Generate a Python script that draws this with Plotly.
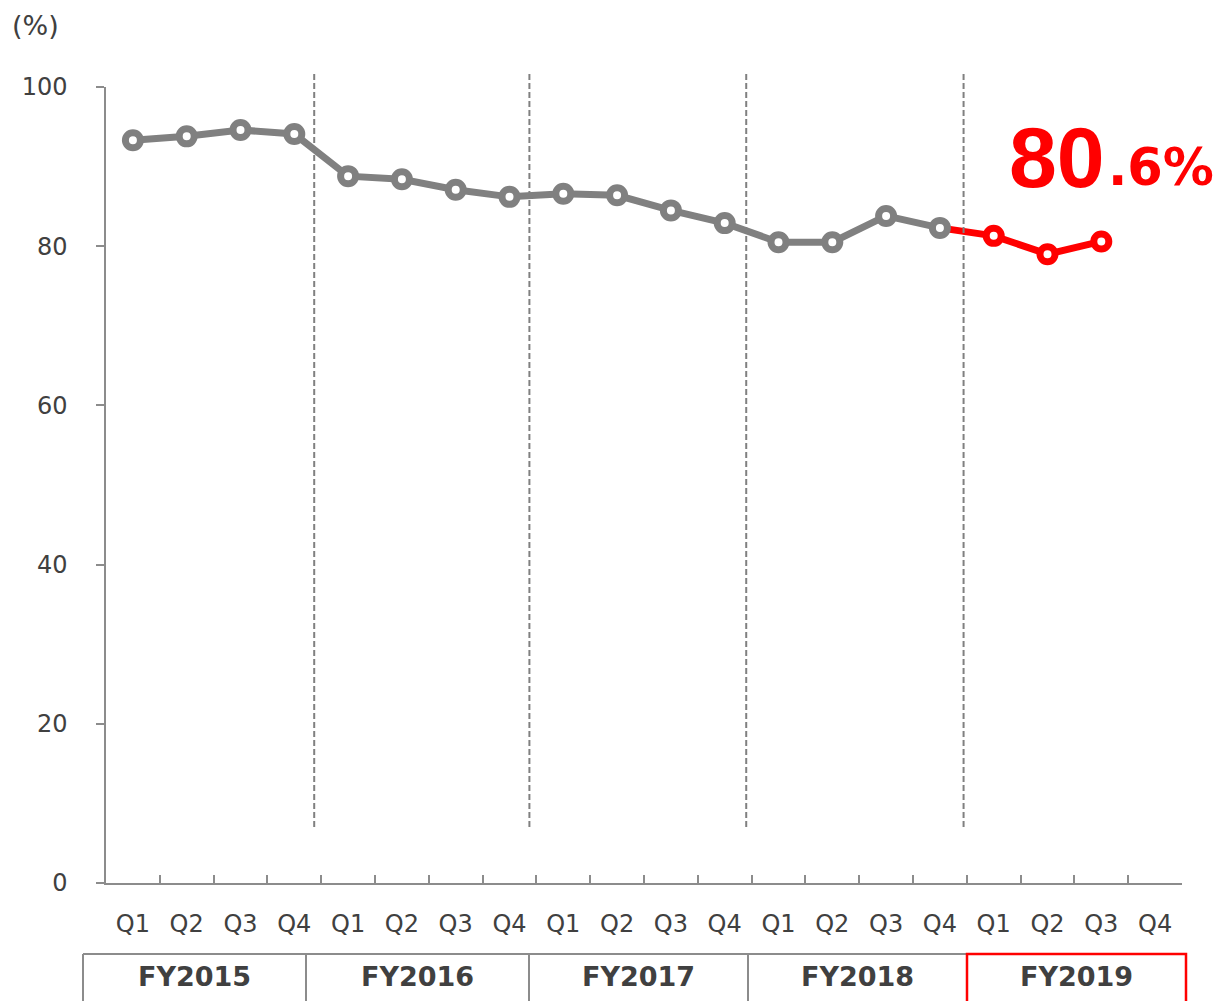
import plotly.graph_objects as go

# ---- data ----
fiscal_years = ["FY2015", "FY2016", "FY2017", "FY2018", "FY2019"]
quarters = ["Q1", "Q2", "Q3", "Q4"]
categories = [f"{fy}-{q}" for fy in fiscal_years for q in quarters]
tick_labels = [q for fy in fiscal_years for q in quarters]

ratio_past = [93.3, 93.8, 94.6, 94.1,
              88.8, 88.4, 87.1, 86.2,
              86.6, 86.4, 84.5, 82.9,
              80.5, 80.5, 83.8, 82.3]
ratio_current = [81.3, 79.0, 80.6]   # FY2019 Q1..Q3
highlight_big = "80"
highlight_small = ".6%"

# ---- layout geometry (pixels) ----
W, H = 1217, 1001
ML, MR, MT, MB = 106, 35, 87, 118
PW = W - ML - MR
PH = H - MT - MB

def px_x(p):
    return (p - ML) / PW

def px_y(p):
    return (H - MB - p) / PH

GREY = "#808080"
RED = "#FF0000"
TXT = "#404040"
AX = "#8C8C8C"

fig = go.Figure()

# red line: links last past quarter to current-year quarters
fig.add_trace(go.Scatter(
    x=[categories[15]] + categories[16:19], y=[ratio_past[-1]] + ratio_current,
    mode="lines", line=dict(color=RED, width=7),
    hoverinfo="skip", showlegend=False))

fig.add_trace(go.Scatter(
    x=categories[:16], y=ratio_past, mode="lines+markers",
    line=dict(color=GREY, width=7),
    marker=dict(symbol="circle", size=15, color="white",
                line=dict(color=GREY, width=7)),
    hoverinfo="skip", showlegend=False, cliponaxis=False))

fig.add_trace(go.Scatter(
    x=categories[16:19], y=ratio_current, mode="markers",
    marker=dict(symbol="circle", size=15, color="white",
                line=dict(color=RED, width=7)),
    hoverinfo="skip", showlegend=False, cliponaxis=False))

shapes = []
# dashed year separators (slightly left of category boundaries as in the reference)
n = len(categories)
for b, off in zip([4, 8, 12, 16], [0.13, 0.13, 0.10, 0.06]):
    xp = (b - off) / n
    shapes.append(dict(type="line", xref="paper", yref="paper",
                       x0=xp, x1=xp, y0=px_y(827), y1=px_y(72),
                       line=dict(color=GREY, width=2, dash="6px,3px")))

# fiscal-year boxes
edges_px = [83, 306, 529, 748, 967, 1186]
top_px, bot_px = 954, 1010
shapes.append(dict(type="line", xref="paper", yref="paper",
                   x0=px_x(edges_px[0]), x1=px_x(edges_px[4]),
                   y0=px_y(top_px), y1=px_y(top_px),
                   line=dict(color=AX, width=2)))
for e in edges_px[:4]:
    shapes.append(dict(type="line", xref="paper", yref="paper",
                       x0=px_x(e), x1=px_x(e), y0=px_y(top_px), y1=px_y(bot_px),
                       line=dict(color=AX, width=2)))
shapes.append(dict(type="rect", xref="paper", yref="paper",
                   x0=px_x(edges_px[4]), x1=px_x(edges_px[5]),
                   y0=px_y(bot_px), y1=px_y(top_px),
                   line=dict(color=RED, width=2.5), fillcolor="rgba(0,0,0,0)"))

annotations = []
for i, fy in enumerate(fiscal_years):
    cx = (edges_px[i] + edges_px[i + 1]) / 2
    annotations.append(dict(x=px_x(cx), y=px_y(977), xref="paper", yref="paper",
                            text=f"<b>{fy}</b>", showarrow=False,
                            xanchor="center", yanchor="middle",
                            font=dict(family="DejaVu Sans", size=27, color=TXT)))

annotations.append(dict(x=px_x(10), y=px_y(25), xref="paper", yref="paper",
                        text="(%)", showarrow=False, xanchor="left", yanchor="middle",
                        font=dict(family="DejaVu Sans", size=27, color=TXT)))

annotations.append(dict(x=px_x(1107), y=px_y(157), xref="paper", yref="paper",
                        text=f"<b>{highlight_big}</b>", showarrow=False,
                        xanchor="right", yanchor="middle",
                        font=dict(family="Liberation Sans", size=86, color=RED)))
annotations.append(dict(x=px_x(1106), y=px_y(167), xref="paper", yref="paper",
                        text=f"<b>{highlight_small}</b>", showarrow=False,
                        xanchor="left", yanchor="middle",
                        font=dict(family="DejaVu Sans", size=51, color=RED)))

fig.update_layout(
    width=W, height=H, autosize=False,
    margin=dict(l=ML, r=MR, t=MT, b=MB, pad=0),
    paper_bgcolor="white", plot_bgcolor="white",
    font=dict(family="DejaVu Sans", size=24, color=TXT),
    shapes=shapes, annotations=annotations,
    xaxis=dict(type="category", categoryorder="array", categoryarray=categories,
               tickmode="array", tickvals=categories, ticktext=tick_labels,
               tickson="boundaries", ticks="inside", ticklen=8, tickwidth=1.5,
               tickcolor=AX, showline=True, linecolor=AX, linewidth=1.5,
               showgrid=False, zeroline=False, range=[-0.5, 19.5],
               tickfont=dict(family="DejaVu Sans", size=24, color=TXT),
               ticklabelstandoff=18, fixedrange=True),
    yaxis=dict(range=[0, 100], tickvals=[0, 20, 40, 60, 80, 100],
               ticks="outside", ticklen=8, tickwidth=1.5, tickcolor=AX,
               showline=True, linecolor=AX, linewidth=1.5,
               showgrid=False, zeroline=False,
               tickfont=dict(family="DejaVu Sans", size=24, color=TXT),
               ticklabelstandoff=24, fixedrange=True),
)

fig.write_html("out.html",
               config={"displayModeBar": False},
               post_script="document.body.style.margin='0px';"
                           "document.body.style.overflow='hidden';")
